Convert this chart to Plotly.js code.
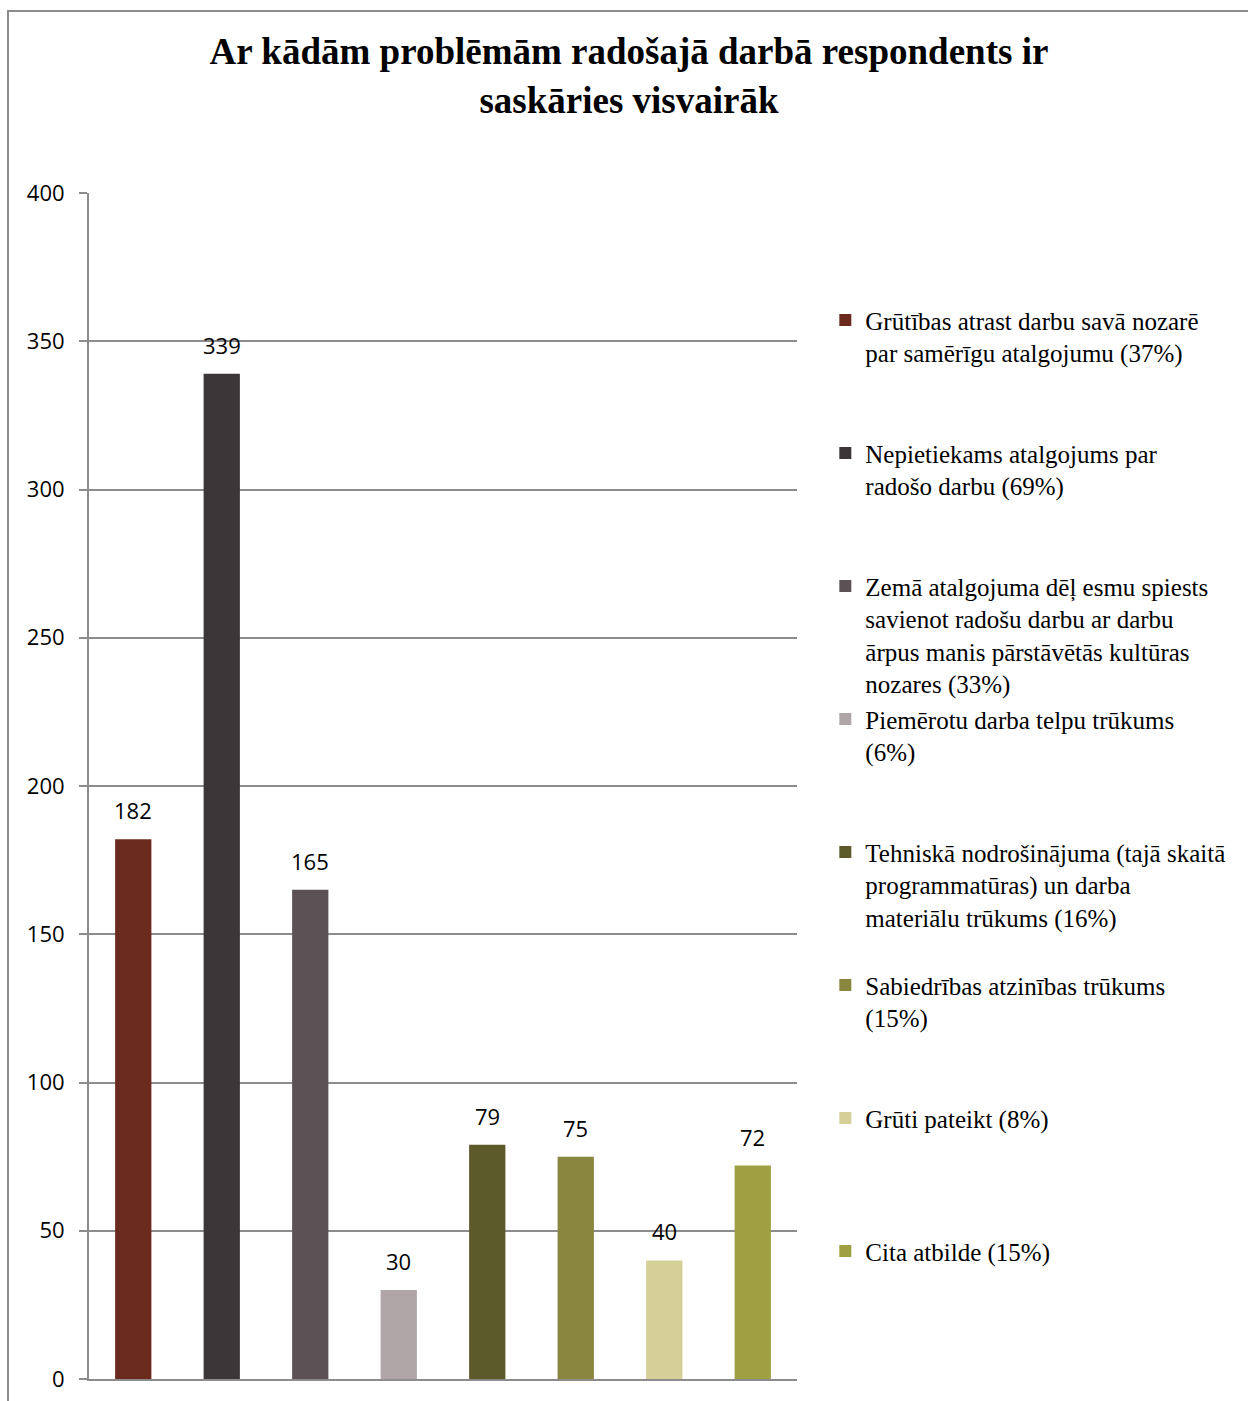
<!DOCTYPE html>
<html>
<head>
<meta charset="utf-8">
<script src="https://cdn.plot.ly/plotly-3.0.1.min.js"></script>
<style>
  html, body { margin: 0; padding: 0; background: #ffffff; }
  #frame { position: absolute; left: 7px; top: 10px; width: 1400px; height: 1500px;
           border-left: 2px solid #8c8c8c; border-top: 2px solid #8c8c8c; pointer-events: none; }
  #chart { position: absolute; left: 0; top: 0; width: 1248px; height: 1401px; }
</style>
</head>
<body>
<div id="chart"></div>
<div id="frame"></div>
<script>
const titleText = 'Ar kādām problēmām radošajā darbā respondents ir<br>saskāries visvairāk';

const categories = [
  'Grūtības atrast darbu savā nozarē<br>par samērīgu atalgojumu (37%)',
  'Nepietiekams atalgojums par<br>radošo darbu (69%)',
  'Zemā atalgojuma dēļ esmu spiests<br>savienot radošu darbu ar darbu<br>ārpus manis pārstāvētās kultūras<br>nozares (33%)',
  'Piemērotu darba telpu trūkums<br>(6%)',
  'Tehniskā nodrošinājuma (tajā skaitā<br>programmatūras) un darba<br>materiālu trūkums (16%)',
  'Sabiedrības atzinības trūkums<br>(15%)',
  'Grūti pateikt (8%)',
  'Cita atbilde (15%)'
];
const values = [182, 339, 165, 30, 79, 75, 40, 72];
const colors = ['#6b2a1e', '#3d3638', '#5c5255', '#b0a6a8', '#5c5a2a', '#8a853f', '#d5cf98', '#9fa042'];
const tickValues = [0, 50, 100, 150, 200, 250, 300, 350, 400];

const xKeys = categories.map((c, i) => 'c' + i);

function padLines(s, n) {
  const count = s.split('<br>').length;
  let out = s;
  for (let k = count; k < n; k++) out += '<br>\u00a0';
  return out;
}

const traces = categories.map((name, i) => ({
  type: 'bar',
  x: [xKeys[i]],
  y: [values[i]],
  name: padLines(name, 4),
  marker: { color: colors[i], line: { width: 0 } },
  width: 0.41,
  hoverinfo: 'skip'
}));

const annotations = values.map((v, i) => ({
  x: xKeys[i], y: v, xref: 'x', yref: 'y',
  text: String(v), showarrow: false,
  yanchor: 'bottom', yshift: 12,
  font: { family: 'Open Sans, Noto Sans, sans-serif', size: 22, color: '#000000' }
}));

const layout = {
  width: 1248, height: 1401,
  margin: { l: 89, r: 451, t: 193, b: 22, pad: 0 },
  paper_bgcolor: 'rgba(0,0,0,0)',
  plot_bgcolor: 'rgba(0,0,0,0)',
  barmode: 'overlay',
  showlegend: true,
  title: {
    text: titleText,
    font: { family: 'Liberation Serif, Times New Roman, serif', size: 37, color: '#000000', weight: 'bold' },
    x: 0.504, xanchor: 'center', xref: 'container',
    y: 0.954, yanchor: 'top', yref: 'container'
  },
  xaxis: {
    type: 'category',
    categoryarray: xKeys,
    showticklabels: false,
    showgrid: false,
    ticks: '',
    showline: true, linecolor: '#8c8c8c', linewidth: 2,
    zeroline: false,
    fixedrange: true
  },
  yaxis: {
    range: [0, 400],
    tickvals: tickValues,
    ticktext: tickValues.map(String),
    showgrid: true, gridcolor: '#8c8c8c', gridwidth: 2,
    showline: true, linecolor: '#8c8c8c', linewidth: 2,
    ticks: 'outside', ticklen: 8, tickcolor: '#8c8c8c', tickwidth: 2,
    ticklabelstandoff: 10,
    zeroline: false,
    tickfont: { family: 'Open Sans, Noto Sans, sans-serif', size: 22, color: '#000000' },
    fixedrange: true
  },
  legend: {
    x: 1.04, xanchor: 'left', xref: 'paper',
    y: 0.912, yanchor: 'top', yref: 'paper',
    valign: 'top',
    traceorder: 'normal',
    bgcolor: 'rgba(0,0,0,0)',
    font: { family: 'Liberation Serif, Times New Roman, serif', size: 25, color: '#000000' },
    itemclick: false, itemdoubleclick: false
  },
  annotations: annotations
};

Plotly.newPlot('chart', traces, layout, { displayModeBar: false, staticPlot: true });
</script>
</body>
</html>
